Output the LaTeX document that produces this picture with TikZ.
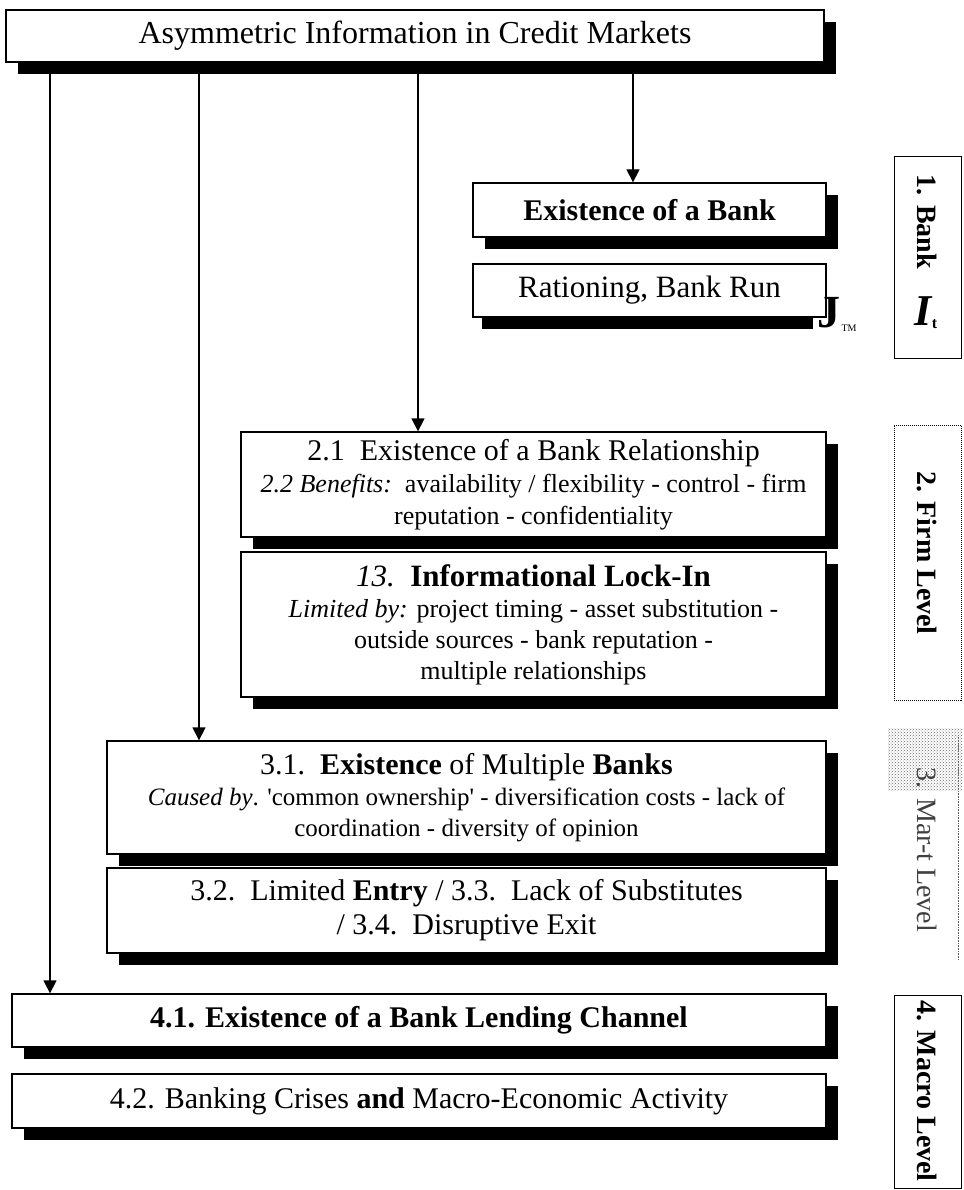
\documentclass[tikz,border=0pt]{standalone}
\usepackage{fontspec}
\setmainfont{Liberation Serif}
\usetikzlibrary{arrows.meta,shadows,patterns}
\tikzset{
  plainbox/.style={draw, line width=1.3pt, fill=white, rectangle, inner sep=0pt, align=center},
  box/.style={plainbox, drop shadow={shadow xshift=12pt, shadow yshift=-12pt, fill=black, opacity=1}},
  arr/.style={line width=1.3pt, -{Triangle[length=13pt,width=13pt]}},
  lab/.style={draw, line width=1pt, rectangle, inner sep=0pt},
  labtext/.style={rotate=-90, inner sep=0pt, font=\fontsize{28}{30}\selectfont\bfseries},
}
\begin{document}
\begin{tikzpicture}[x=1pt,y=-1pt]
\useasboundingbox (0,0) rectangle (963,1190);
% main boxes
\node[box, minimum width=818pt, minimum height=52pt, font=\fontsize{32}{36}\selectfont] (title) at (415,36) {Asymmetric Information in Credit Markets};
\node[box, minimum width=353pt, minimum height=54pt, font=\fontsize{30}{34}\selectfont\bfseries] (exist) at (649.5,210) {Existence of a Bank};
\fill (482,317) rectangle (813,329);
\node[plainbox, minimum width=353pt, minimum height=53pt, font=\fontsize{31}{34}\selectfont] (ration) at (649.5,290.5) {Rationing, Bank Run};
\node[box, minimum width=585pt, minimum height=105pt, font=\fontsize{26}{32}\selectfont] (rel) at (533.5,484.5)
  {{\fontsize{30}{32}\selectfont 2.1\enspace Existence of a Bank Relationship}\\
   \textit{2.2 Benefits:}\enspace availability / flexibility - control - firm\\
   reputation - confidentiality};
\node[box, minimum width=585pt, minimum height=145pt, font=\fontsize{26}{31}\selectfont] (lock) at (533.5,624.5)
  {{\fontsize{31}{33}\selectfont\textit{13.}\enspace\textbf{Informational Lock-In}}\\
   \textit{Limited by:} project timing - asset substitution -\\
   outside sources - bank reputation -\\
   multiple relationships};
\node[box, minimum width=719pt, minimum height=113pt, font=\fontsize{25}{31}\selectfont] (multi) at (466.5,797.5)
  {{\fontsize{30}{32}\selectfont 3.1.\enspace\textbf{Existence} of Multiple \textbf{Banks}}\\
   \textit{Caused by}. \textquotesingle common ownership\textquotesingle{} - diversification costs - lack of\\
   coordination - diversity of opinion};
\node[box, minimum width=719pt, minimum height=85pt, font=\fontsize{30}{34}\selectfont] (entry) at (466.5,910.5)
  {3.2.\enspace Limited \textbf{Entry} / 3.3.\enspace Lack of Substitutes\\
   / 3.4.\enspace Disruptive Exit};
\node[box, minimum width=814pt, minimum height=53pt, font=\fontsize{30}{34}\selectfont\bfseries] (lend) at (419,1020.5) {4.1. Existence of a Bank Lending Channel};
\node[box, minimum width=814pt, minimum height=54pt, font=\fontsize{30}{34}\selectfont] (crisis) at (419,1101) {4.2. Banking Crises \textbf{and} Macro-Economic Activity};
% stray marks
\node[inner sep=0pt, font=\fontsize{46}{46}\selectfont\bfseries] (jj) at (829,313) {J};
\node[inner sep=0pt, font=\fontsize{10}{10}\selectfont] (tm) at (849,328) {TM};
% arrows
\coordinate (s1) at (50,62);
\coordinate (s2) at (199,62);
\coordinate (s3) at (418,62);
\coordinate (s4) at (633,62);
\draw[arr] (s1) -- (s1 |- lend.north);
\draw[arr] (s2) -- (s2 |- multi.north);
\draw[arr] (s3) -- (s3 |- rel.north);
\draw[arr] (s4) -- (s4 |- exist.north);
% level labels
\node[lab, minimum width=67pt, minimum height=201pt] (l1) at (927.5,257.5) {};
\node[labtext] (l1t) at (927,222) {1. Bank};
\node[inner sep=0pt] (l1i) at (926,313) {\fontsize{44}{44}\selectfont\bfseries\itshape I\raisebox{-3pt}{\fontsize{16}{16}\selectfont\upshape t}};
\node[lab, densely dotted, minimum width=67pt, minimum height=275pt] (l2) at (927.5,562.5) {};
\node[labtext] (l2t) at (927,553) {2. Firm Level};
\fill[pattern=crosshatch dots, pattern color=black!60] (888,728) rectangle (962,790);
\draw[densely dotted, line width=0.6pt, black!60] (958,735) -- (958,960);
\node[labtext, font=\fontsize{28}{30}\selectfont, text=black!75] (l3t) at (927,850) {3. Mar-t Level};
\node[lab, minimum width=67pt, minimum height=193pt] (l4) at (927.5,1091.5) {};
\node[labtext] (l4t) at (927,1091) {4. Macro Level};
\end{tikzpicture}
\end{document}
